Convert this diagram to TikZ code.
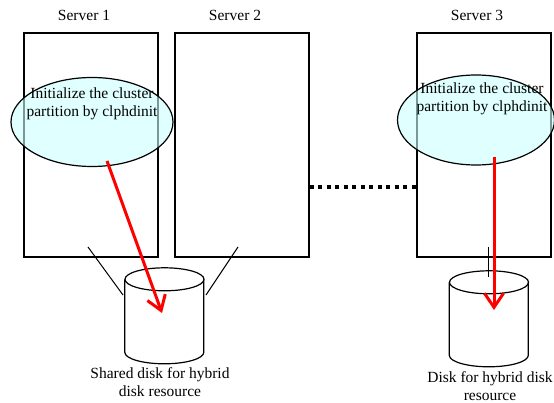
\documentclass[tikz,border=0pt]{standalone}
\usepackage{fontspec}
\setmainfont{Liberation Serif}
\usetikzlibrary{shapes.geometric,arrows.meta,calc}
\definecolor{InitCyan}{RGB}{203,255,255}
\tikzset{>={Straight Barb[length=14pt,width=19pt,line width=3pt]}}
\tikzset{srvbox/.style={draw,line width=1.2pt,minimum width=134pt,minimum height=224pt,inner sep=0pt}}
\tikzset{initell/.style={ellipse,draw,line width=1.2pt,fill=InitCyan,fill opacity=0.6,inner sep=0pt}}
\tikzset{diskbody/.style={minimum width=79pt,minimum height=96pt,inner sep=0pt}}
\tikzset{diskline/.style={line width=1.2pt}}
\tikzset{mytext/.style={font=\fontsize{15.5}{18}\selectfont,align=center,inner sep=0pt}}
\tikzset{writearrow/.style={red,line width=3pt,->}}
\tikzset{linkline/.style={line width=1pt}}

\begin{document}
\begin{tikzpicture}[x=1pt,y=-1pt]
    \useasboundingbox (0,0) rectangle (554,403);

    % servers
    \foreach \n/\x/\lx in {1/91/84, 2/242/235, 3/484/477} {
        \node[srvbox] (srv\n) at (\x,145) {};
        \node[mytext] (name\n) at (\lx,15) {Server \n};
    }

    % disks
    \node[diskbody] (disk1) at (164.5,316) {};
    \node[diskbody] (disk2) at (489,319) {};
    \foreach \n in {1,2} {
        \draw[diskline] (disk\n.north west) ++(0,11.5) -- ++(0,73)
            arc[start angle=180,end angle=360,x radius=39.5pt,y radius=11.5pt] -- ++(0,-73);
        \draw[diskline] ([yshift=-11.5pt]disk\n.north) ellipse[x radius=39.5pt,y radius=11.5pt];
    }
    \node[mytext] (dlab1) at (160,382.5) {Shared disk for hybrid\\disk resource};
    \node[mytext] (dlab2) at (490,386.5) {Disk for hybrid disk\\resource};

    % connections to disks
    \coordinate (c1) at (88,247);
    \coordinate (c2) at (238,247);
    \coordinate (c3) at (488,247);
    \coordinate (d1) at (123,295);
    \coordinate (d2) at (206,295);
    \coordinate (d3) at (488,277);
    \foreach \i/\j in {c1/d1, c2/d2, c3/d3} {
        \draw[linkline] (\i) -- (\j);
    }

    \draw[line width=3.5pt,dash pattern=on 4pt off 4.5pt] ([yshift=-42pt]srv2.east) -- ([yshift=-42pt]srv3.west);

    % clphdinit
    \node[initell,minimum width=162pt,minimum height=89pt] (init1) at (92,122) {};
    \node[initell,minimum width=157pt,minimum height=90pt] (init2) at (476,120) {};
    \node[mytext] (txt1) at (92,104) {\fontsize{15.5}{22}\selectfont Initialize the cluster\\partition by clphdinit};
    \node[mytext] (txt2) at (482,99) {Initialize the cluster\\partition by clphdinit};

    \coordinate (s1) at (107,161);
    \coordinate (s2) at (494,157);
    \coordinate (e1) at (162,313);
    \coordinate (e2) at (494,310);
    \draw[writearrow] (s1) -- (e1);
    \draw[writearrow] (s2) -- (e2);
\end{tikzpicture}
\end{document}
